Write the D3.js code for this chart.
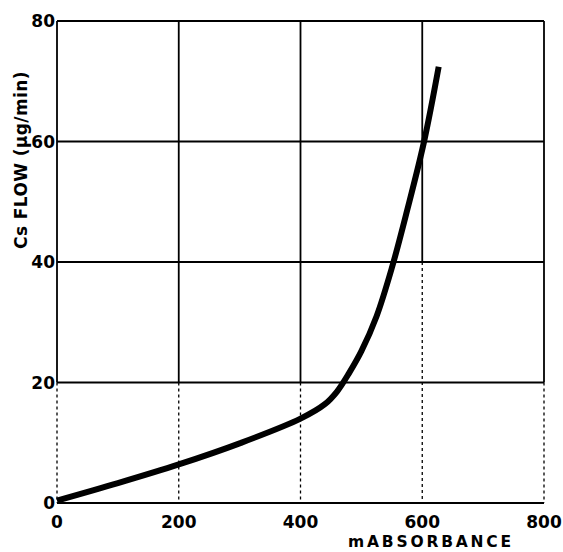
<!DOCTYPE html>
<html>
<head>
<meta charset="utf-8">
<script src="https://cdn.jsdelivr.net/npm/d3@7"></script>
<style>
  html, body { margin: 0; padding: 0; background: #fff; }
  svg { display: block; }
  text { font-family: "DejaVu Sans", "Liberation Sans", Arial, sans-serif; font-weight: bold; fill: #000; }
</style>
</head>
<body>
<svg id="chart" width="563" height="552"></svg>
<script>
// Data
const absorbance = [0, 100, 200, 300, 400, 440, 460, 480, 500, 525, 550, 575, 603, 627];
const csFlow     = [0.4, 3.3, 6.4, 9.9, 14.0, 16.4, 18.5, 21.6, 25.2, 31.0, 39.0, 48.5, 60, 72.4];
const xTicks = [0, 200, 400, 600, 800];
const yTicks = [0, 20, 40, 60, 80];
const xLabel = "mABSORBANCE";
const yLabel = "Cs FLOW (\u00b5g/min)";

const svg = d3.select("#chart");
const plotLeft = 57, plotRight = 544, plotTop = 21, plotBottom = 503;

const x = d3.scaleLinear().domain([0, 800]).range([plotLeft, plotRight]);
const y = d3.scaleLinear().domain([0, 80]).range([plotBottom, plotTop]);

// Horizontal grid lines (solid)
svg.append("g").selectAll("line").data(yTicks).join("line")
  .attr("x1", plotLeft).attr("x2", plotRight)
  .attr("y1", d => y(d)).attr("y2", d => y(d))
  .attr("stroke", "#000").attr("stroke-width", d => d === 0 ? 2.2 : 2);

// Vertical grid lines: solid in the upper part, dotted lower (scan look)
const vg = svg.append("g");
xTicks.forEach(t => {
  const breakVal = t === 600 ? 40 : 20;
  vg.append("line")
    .attr("x1", x(t)).attr("x2", x(t))
    .attr("y1", y(80)).attr("y2", y(breakVal))
    .attr("stroke", "#000").attr("stroke-width", 1.8);
  vg.append("line")
    .attr("x1", x(t)).attr("x2", x(t))
    .attr("y1", y(breakVal)).attr("y2", y(0))
    .attr("stroke", "#000").attr("stroke-width", 1.3)
    .attr("stroke-dasharray", "3,3");
});

// Axes tick labels
svg.append("g").selectAll("text").data(xTicks).join("text")
  .attr("x", d => x(d)).attr("y", 528)
  .attr("text-anchor", "middle")
  .style("font-size", "17px")
  .text(d => d);

svg.append("g").selectAll("text").data(yTicks).join("text")
  .attr("x", 55).attr("y", d => y(d) + 6)
  .attr("text-anchor", "end")
  .style("font-size", "17px")
  .text(d => d);

// Axis titles
svg.append("text")
  .attr("x", 431).attr("y", 547)
  .attr("text-anchor", "middle")
  .style("font-size", "15.5px")
  .style("letter-spacing", "2.8px")
  .text(xLabel);

svg.append("text")
  .attr("transform", "translate(27,160) rotate(-90)")
  .attr("text-anchor", "middle")
  .style("font-size", "17px")
  .style("letter-spacing", "0.4px")
  .text(yLabel);

// Curve
const pts = absorbance.map((a, i) => [a, csFlow[i]]);
const line = d3.line()
  .x(d => x(d[0])).y(d => y(d[1]))
  .curve(d3.curveCatmullRom.alpha(0.5));

svg.append("path")
  .attr("d", line(pts))
  .attr("fill", "none")
  .attr("stroke", "#000")
  .attr("stroke-width", 6)
  .attr("stroke-linecap", "butt");
</script>
</body>
</html>
